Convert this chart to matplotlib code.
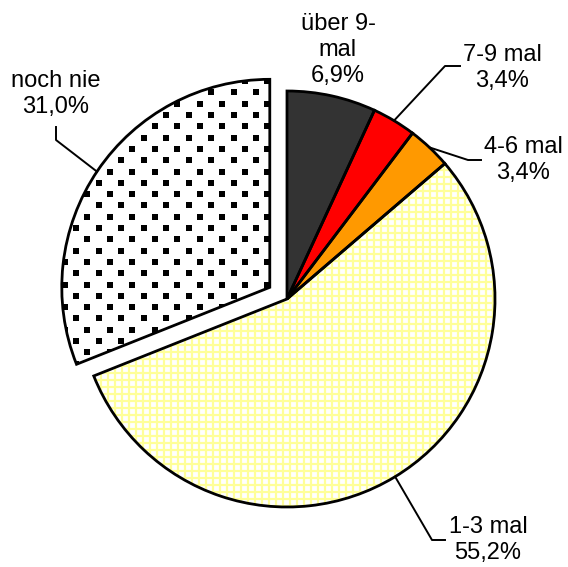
import numpy as np
import matplotlib
matplotlib.use("Agg")
import matplotlib.pyplot as plt
from matplotlib.collections import LineCollection

# Data
categories = ["über 9-\nmal", "7-9 mal", "4-6 mal", "1-3 mal", "noch nie"]
shares = [6.9, 3.4, 3.4, 55.2, 31.0]
colors = ["#333333", "#FF0000", "#FF9900", "#FFFFFF", "#FFFFFF"]
explode = [0, 0, 0, 0, 0.1]

# Geometry of the picture (pixels)
R_PX = 208
CX, CY = 287, 299


def px(x, y):
    return ((x - CX) / R_PX, (CY - y) / R_PX)


plt.rcParams["font.family"] = ["Liberation Sans", "DejaVu Sans"]

fig = plt.figure(figsize=(5.68, 5.67), dpi=100)
ax = fig.add_axes([0, 0, 1, 1])

wedges, _ = ax.pie(
    shares,
    colors=colors,
    explode=explode,
    startangle=90,
    counterclock=False,
    wedgeprops=dict(linewidth=0),
)

# yellow grid texture in the "1-3 mal" slice
step = 7 / R_PX
grid = np.arange(-1.5, 1.5, step)
segs = [[(g, -1.5), (g, 1.5)] for g in grid] + [[(-1.5, g), (1.5, g)] for g in grid]
lc = LineCollection(segs, colors="#FFFF99", linewidths=1.6, zorder=2)
ax.add_collection(lc)
lc.set_clip_path(wedges[3])

# dotted texture in the "noch nie" slice
dx, dy = 22.5 / R_PX, 11.3 / R_PX
xs, ys = [], []
for i, yy in enumerate(np.arange(-0.8, 1.4, dy)):
    off = dx / 2 if i % 2 else 0
    for xx in np.arange(-1.5, 0.2, dx):
        xs.append(xx + off)
        ys.append(yy)
dots, = ax.plot(xs, ys, "s", color="black", markersize=4.0,
                markeredgewidth=0, zorder=2)
dots.set_clip_path(wedges[4])

# outlines on top
ax.pie(
    shares,
    explode=explode,
    startangle=90,
    counterclock=False,
    wedgeprops=dict(fill=False, edgecolor="black", linewidth=2.0, zorder=3),
)

# labels
labels = [f"{c}\n{str(v).replace('.', ',')}%" for c, v in zip(categories, shares)]
label_pos = [(338, 50), (502, 68), (523, 160), (488, 540), (56, 94)]
for lab, (lx, ly) in zip(labels, label_pos):
    ax.text(*px(lx, ly), lab, ha="center", va="center", fontsize=17,
            linespacing=1.25, zorder=4)

# leader lines (edge of wedge -> elbow -> label)
theta = 90 - 360 * (np.cumsum(shares) - np.array(shares) / 2) / 100
elbows = {1: [(445, 66), (460, 66)], 2: [(468, 160), (481, 160)],
          3: [(432, 540), (445, 540)], 4: [(56, 140), (56, 127)]}
for i, pts in elbows.items():
    r = 1 + explode[i]
    t = np.deg2rad(theta[i])
    line = [(r * np.cos(t), r * np.sin(t))] + [px(*p) for p in pts]
    lx, ly = zip(*line)
    ax.plot(lx, ly, color="black", linewidth=1.4, zorder=4)

ax.set_xlim(-CX / R_PX, (568 - CX) / R_PX)
ax.set_ylim(-(567 - CY) / R_PX, CY / R_PX)
ax.set_aspect("auto")
ax.axis("off")

fig.savefig("out.png", dpi=100)
